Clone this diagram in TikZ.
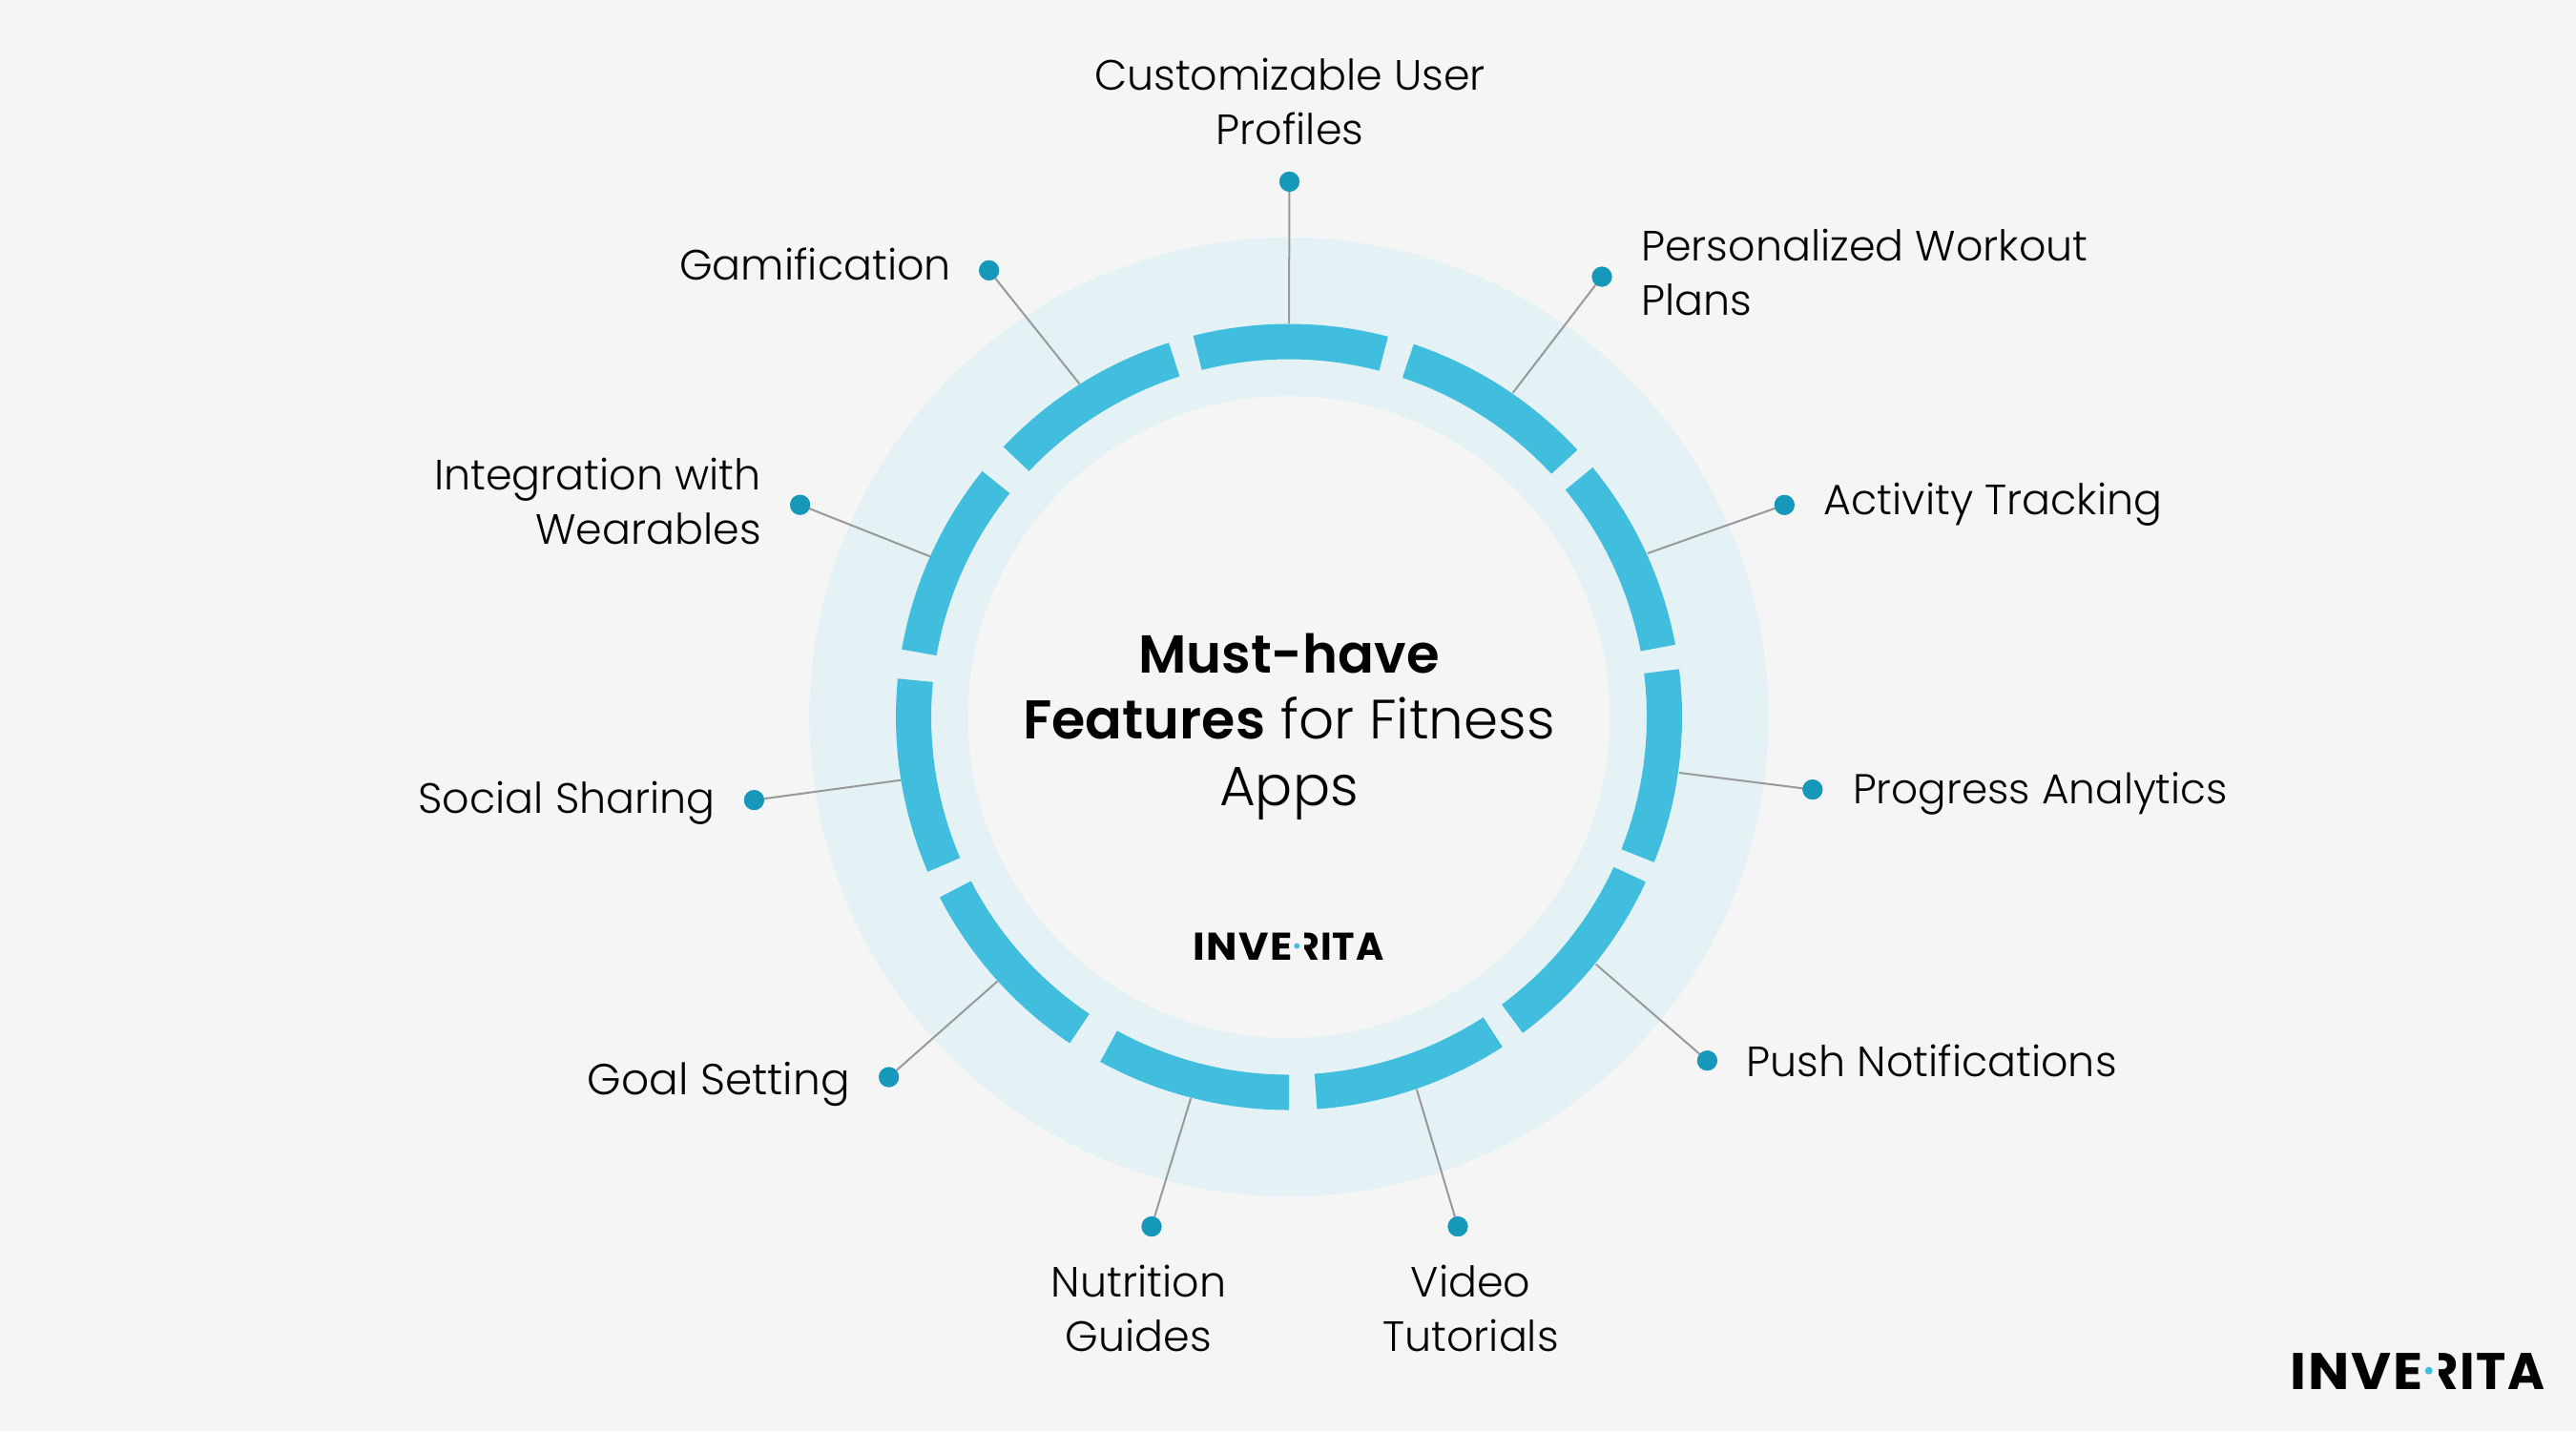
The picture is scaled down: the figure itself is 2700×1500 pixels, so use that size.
\documentclass[tikz,border=0pt]{standalone}
\usepackage{fontspec}
\usepackage{graphicx}
\setmainfont{Poppins Light}[BoldFont={Poppins SemiBold}]
\newfontfamily\logofont{Poppins Bold}[LetterSpace=3]
\definecolor{pagebg}{HTML}{F5F5F5}
\definecolor{palering}{HTML}{E4F2F6}
\definecolor{segblue}{HTML}{41BEDD}
\definecolor{dotblue}{HTML}{1598BA}
\definecolor{linkgrey}{HTML}{999999}
\tikzset{
  seg/.style={fill=segblue,draw=none},
  dotnode/.style={circle,fill=dotblue,draw=none,minimum size=21pt,inner sep=0pt},
  link/.style={draw=linkgrey,line width=2pt},
  lab/.style={font=\fontsize{44.4}{57}\selectfont,inner sep=0pt,text depth=0pt},
  title/.style={font=\fontsize{58}{69.5}\selectfont,inner sep=0pt,align=center,text=black},
  logotext/.style={inner sep=0pt,font=\logofont\fontsize{54}{54}\selectfont,text=black},
}
\newcommand\ringseg[2]{\fill[seg] (#1:412) arc[start angle=#1,end angle=#2,radius=412] -- (#2:375) arc[start angle=#2,end angle=#1,radius=375] -- cycle;}
\newcommand\boldword[2]{{\fontsize{#1}{69.5}\selectfont\bfseries #2}}
% logo: #1 name prefix, #2 x left, #3 y baseline, #4 scale
\newcommand\invlogo[4]{%
\begin{scope}[shift={(#2,#3)},scale=#4,transform shape]
\node[logotext,anchor=base west] (#1a) at (-3.5,0) {\scalebox{1.065}[1]{INVE}};
\node[logotext,anchor=base east] (#1b) at (264,0) {\scalebox{0.98}[1]{RITA}};
\fill[pagebg] (#1b.base west) ++(-1,-1) rectangle ++(15,42);
\fill[segblue] (141.7,19.3) circle[radius=4];
\end{scope}}
\begin{document}
\begin{tikzpicture}[x=1pt,y=1pt]
\useasboundingbox (0,0) rectangle (2700,-1500);
\fill[pagebg] (0,0) rectangle (2700,-1500);
\begin{scope}[shift={(1351,-751.5)}]
\fill[palering,even odd rule] (0,0) circle[radius=502.5] (0,0) circle[radius=336.5];
\end{scope}
\coordinate (a1) at (1351,-339);
\coordinate (a2) at (1585.7,-411.7);
\coordinate (a3) at (1726.7,-580);
\coordinate (a4) at (1760,-810);
\coordinate (a5) at (1672.7,-1010.7);
\coordinate (a6) at (1484.8,-1141.7);
\coordinate (a7) at (1248.2,-1151);
\coordinate (a8) at (1045.7,-1028.3);
\coordinate (a9) at (944.3,-817.7);
\coordinate (a10) at (975,-583.3);
\coordinate (a11) at (1131.7,-402.7);
\node[dotnode] (d1) at (1351.5,-190.4) {};
\node[dotnode] (d2) at (1679,-290) {};
\node[dotnode] (d3) at (1870.3,-529.3) {};
\node[dotnode] (d4) at (1899.8,-827.6) {};
\node[dotnode] (d5) at (1789.4,-1111.7) {};
\node[dotnode] (d6) at (1528,-1285.6) {};
\node[dotnode] (d7) at (1207,-1285.6) {};
\node[dotnode] (d8) at (931.6,-1129) {};
\node[dotnode] (d9) at (790.4,-838.6) {};
\node[dotnode] (d10) at (838.6,-529.2) {};
\node[dotnode] (d11) at (1036.6,-283.4) {};
\foreach \i in {1,...,11} \draw[link] (a\i) -- (d\i.center);
\begin{scope}[shift={(1351,-751.5)}]
\ringseg{75.4}{104.1}
\ringseg{42.8}{71.5}
\ringseg{10.6}{39.4}
\ringseg{-21.7}{7.0}
\ringseg{-53.5}{-24.8}
\ringseg{-85.9}{-57.1}
\ringseg{-118.7}{-90}
\ringseg{-152.7}{-123.9}
\ringseg{-185.6}{-156.8}
\ringseg{141.3}{170.1}
\ringseg{107.8}{136.6}
\end{scope}
\foreach \i in {1,...,11} \fill[dotblue] (d\i.center) circle[radius=10.5];
\node[lab,align=center] (l1) at (1352,-106) {Customizable User\\Profiles};
\node[lab,align=left,anchor=west] (l2) at (1720,-285.5) {Personalized Workout\\Plans};
\node[lab,anchor=west] (l3) at (1911.5,-523) {Activity Tracking};
\node[lab,font=\fontsize{43.8}{57}\selectfont,anchor=west] (l4) at (1942,-826.5) {Progress Analytics};
\node[lab,anchor=west] (l5) at (1830.5,-1112) {Push Notifications};
\node[lab,align=center] (l6) at (1541.5,-1371) {Video\\Tutorials};
\node[lab,align=center] (l7) at (1193.5,-1371) {Nutrition\\Guides};
\node[lab,font=\fontsize{45.5}{57}\selectfont,anchor=east] (l8) at (891,-1130) {Goal Setting};
\node[lab,anchor=east] (l9) at (750,-835.5) {Social Sharing};
\node[lab,align=right,anchor=east] (l10) at (798,-525) {Integration with\\Wearables};
\node[lab,anchor=east] (l11) at (997,-277) {Gamification};
\node[title] (t) at (1351,-761.5) {\boldword{56}{Must-have}\\\boldword{57.2}{Features} for Fitness\\Apps};
\invlogo{ma}{1253}{-1006}{0.75}
\invlogo{co}{2404}{-1456}{1}
\end{tikzpicture}
\end{document}
